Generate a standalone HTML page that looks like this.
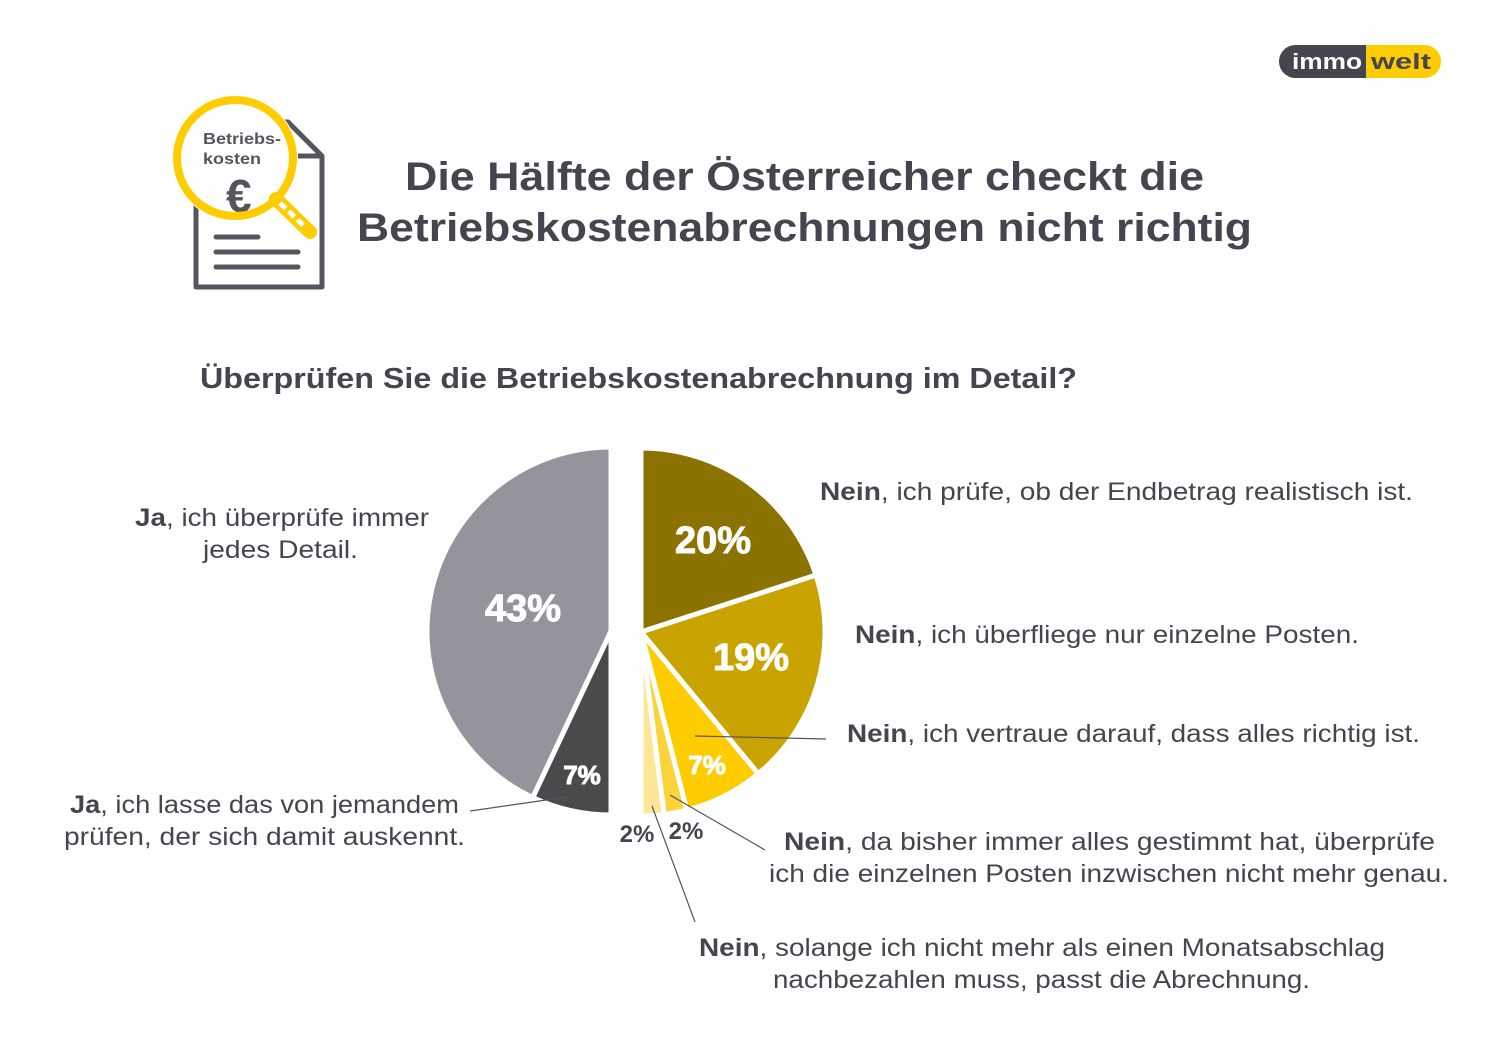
<!DOCTYPE html>
<html><head><meta charset="utf-8"><style>
body{margin:0;background:#fff;}
svg text{font-family:"Liberation Sans",sans-serif;}
</style></head><body>
<svg width="1500" height="1057" viewBox="0 0 1500 1057" xmlns="http://www.w3.org/2000/svg">
<rect width="1500" height="1057" fill="#fff"/>
<!-- logo -->
<rect x="1279" y="45" width="162" height="33" rx="16.5" fill="#ffcc00"/>
<path d="M1295.5 45 H1366 V78 H1295.5 A16.5 16.5 0 0 1 1295.5 45 Z" fill="#45454f"/>
<text x="1292" y="69" font-size="22" font-weight="bold" fill="#fff" textLength="70" lengthAdjust="spacingAndGlyphs">immo</text>
<text x="1371" y="69" font-size="22" font-weight="bold" fill="#45454f" textLength="60" lengthAdjust="spacingAndGlyphs">welt</text>
<!-- icon -->
<path d="M196 122 H288 L322 156 V287 H196 Z" fill="none" stroke="#55555f" stroke-width="5" stroke-linejoin="round"/>
<path d="M288 122 V156 H322" fill="none" stroke="#55555f" stroke-width="5"/>
<line x1="216" y1="237" x2="258" y2="237" stroke="#55555f" stroke-width="5" stroke-linecap="round"/>
<line x1="216" y1="252" x2="298" y2="252" stroke="#55555f" stroke-width="5" stroke-linecap="round"/>
<line x1="216" y1="267" x2="298" y2="267" stroke="#55555f" stroke-width="5" stroke-linecap="round"/>
<circle cx="235" cy="158" r="63" fill="#fff"/>
<text x="203" y="144" font-size="16" font-weight="bold" fill="#55555f" textLength="78" lengthAdjust="spacingAndGlyphs">Betriebs-</text>
<text x="203" y="164" font-size="16" font-weight="bold" fill="#55555f" textLength="58" lengthAdjust="spacingAndGlyphs">kosten</text>
<text x="226" y="212" font-size="46" font-weight="bold" fill="#55555f">€</text>
<circle cx="235" cy="158" r="58" fill="none" stroke="#ffcc00" stroke-width="8"/>
<line x1="276" y1="199" x2="310" y2="232" stroke="#ffcc00" stroke-width="14" stroke-linecap="round"/>
<line x1="280" y1="203" x2="306" y2="228" stroke="#fff" stroke-width="5" stroke-dasharray="8 4"/>
<!-- title -->
<text x="405" y="190" font-size="40" font-weight="bold" fill="#45454f" textLength="799" lengthAdjust="spacingAndGlyphs">Die Hälfte der Österreicher checkt die</text>
<text x="357" y="241" font-size="40" font-weight="bold" fill="#45454f" textLength="895" lengthAdjust="spacingAndGlyphs">Betriebskostenabrechnungen nicht richtig</text>
<text x="200" y="388" font-size="29" font-weight="bold" fill="#45454f" textLength="877" lengthAdjust="spacingAndGlyphs">Überprüfen Sie die Betriebskostenabrechnung im Detail?</text>
<!-- pie -->
<g stroke="#fff" stroke-width="5" stroke-linejoin="round">
<path d="M641 632 L641 448 A184 184 0 0 1 816 575.1 Z" fill="#8c7200"/>
<path d="M641 632 L816 575.1 A184 184 0 0 1 758.3 773.8 Z" fill="#c9a300"/>
<path d="M641 632 L758.3 773.8 A184 184 0 0 1 686.8 810.2 Z" fill="#ffcc00"/>
<path d="M641 632 L686.8 810.2 A184 184 0 0 1 664.1 814.5 Z" fill="#fbd33a"/>
<path d="M641 632 L664.1 814.5 A184 184 0 0 1 641 816 Z" fill="#fde797"/>
<path d="M611 631 L611 815 A184 184 0 0 1 532.7 797.5 Z" fill="#4a4a4c"/>
<path d="M611 631 L532.7 797.5 A184 184 0 0 1 611 447 Z" fill="#94949c"/>
</g>
<g font-weight="bold" fill="#fff" text-anchor="middle" stroke="#fff" stroke-width="1">
<text x="713" y="553" font-size="38">20%</text>
<text x="751" y="670" font-size="38">19%</text>
<text x="523" y="621" font-size="38">43%</text>
<text x="707" y="774" font-size="26">7%</text>
<text x="582" y="784" font-size="26">7%</text>
</g>
<g font-weight="bold" fill="#45454f" text-anchor="middle" font-size="24">
<text x="637" y="842">2%</text>
<text x="686" y="839">2%</text>
</g>
<!-- leader lines -->
<g stroke="#55555f" stroke-width="1.2" fill="none">
<line x1="695" y1="736" x2="826" y2="739"/>
<line x1="670" y1="795" x2="765" y2="850"/>
<line x1="652" y1="806" x2="695" y2="922"/>
<line x1="567" y1="797" x2="470" y2="811"/>
</g>
<!-- labels -->
<g font-size="25" fill="#45454f" lengthAdjust="spacingAndGlyphs">
<text x="820" y="500" textLength="593" lengthAdjust="spacingAndGlyphs"><tspan font-weight="bold">Nein</tspan>, ich prüfe, ob der Endbetrag realistisch ist.</text>
<text x="855" y="643" textLength="504" lengthAdjust="spacingAndGlyphs"><tspan font-weight="bold">Nein</tspan>, ich überfliege nur einzelne Posten.</text>
<text x="847" y="742" textLength="573" lengthAdjust="spacingAndGlyphs"><tspan font-weight="bold">Nein</tspan>, ich vertraue darauf, dass alles richtig ist.</text>
<text x="784" y="850" textLength="651" lengthAdjust="spacingAndGlyphs"><tspan font-weight="bold">Nein</tspan>, da bisher immer alles gestimmt hat, überprüfe</text>
<text x="769" y="882" textLength="680" lengthAdjust="spacingAndGlyphs">ich die einzelnen Posten inzwischen nicht mehr genau.</text>
<text x="699" y="956" textLength="686" lengthAdjust="spacingAndGlyphs"><tspan font-weight="bold">Nein</tspan>, solange ich nicht mehr als einen Monatsabschlag</text>
<text x="773" y="988" textLength="537" lengthAdjust="spacingAndGlyphs">nachbezahlen muss, passt die Abrechnung.</text>
<text x="135" y="526" textLength="294" lengthAdjust="spacingAndGlyphs"><tspan font-weight="bold">Ja</tspan>, ich überprüfe immer</text>
<text x="203" y="558" textLength="155" lengthAdjust="spacingAndGlyphs">jedes Detail.</text>
<text x="70" y="813" textLength="389" lengthAdjust="spacingAndGlyphs"><tspan font-weight="bold">Ja</tspan>, ich lasse das von jemandem</text>
<text x="64" y="845" textLength="401" lengthAdjust="spacingAndGlyphs">prüfen, der sich damit auskennt.</text>
</g>
</svg>
</body></html>
